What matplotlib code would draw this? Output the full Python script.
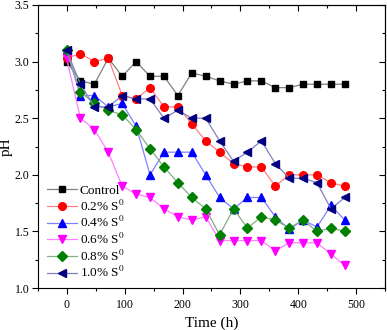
import matplotlib
matplotlib.use("Agg")
import matplotlib.pyplot as plt
from matplotlib.ticker import MultipleLocator

plt.rcParams['font.family'] = ['Liberation Serif', 'DejaVu Serif']
plt.rcParams['mathtext.fontset'] = 'stix'

# sampling times (h)
time_h = [0, 24, 48, 72, 96, 120, 144, 168, 192, 216, 240,
          264, 288, 312, 336, 360, 384, 408, 432, 456, 480]

ph_control = [3.00, 2.83, 2.80, 3.03, 2.87, 3.00, 2.87, 2.87, 2.70, 2.90, 2.87,
              2.83, 2.80, 2.83, 2.83, 2.77, 2.77, 2.80, 2.80, 2.80, 2.80]
ph_s02 = [3.03, 3.07, 3.00, 3.03, 2.70, 2.67, 2.77, 2.60, 2.60, 2.45, 2.30,
          2.20, 2.10, 2.07, 2.07, 1.90, 2.00, 2.00, 2.00, 1.93, 1.90]
ph_s04 = [3.10, 2.70, 2.70, 2.60, 2.63, 2.43, 2.00, 2.20, 2.20, 2.20, 2.00,
          1.80, 1.70, 1.80, 1.80, 1.63, 1.52, 1.60, 1.54, 1.73, 1.60]
ph_s06 = [3.03, 2.50, 2.40, 2.20, 1.90, 1.83, 1.80, 1.70, 1.63, 1.60, 1.63,
          1.42, 1.42, 1.42, 1.42, 1.33, 1.40, 1.40, 1.40, 1.30, 1.20]
ph_s08 = [3.10, 2.73, 2.63, 2.57, 2.53, 2.40, 2.23, 2.07, 1.93, 1.80, 1.70,
          1.47, 1.70, 1.53, 1.63, 1.60, 1.53, 1.60, 1.50, 1.53, 1.50]
ph_s10 = [3.10, 2.80, 2.60, 2.60, 2.70, 2.67, 2.67, 2.50, 2.57, 2.50, 2.50,
          2.30, 2.12, 2.20, 2.30, 2.10, 1.97, 1.97, 1.93, 1.70, 1.80]

labels = ['Control', '0.2% S$^0$', '0.4% S$^0$', '0.6% S$^0$',
          '0.8% S$^0$', '1.0% S$^0$']

fig = plt.figure(figsize=(3.87, 3.30), dpi=100)
ax = fig.add_axes([0.097, 0.127, 0.899, 0.858])

series = [ph_control, ph_s02, ph_s04, ph_s06, ph_s08, ph_s10]
# (marker colour, line colour, marker, size)
styles = [('black', '#808080', 's', 5),
          ('red', '#ff8080', 'o', 5.5),
          ('blue', '#8080ff', '^', 6),
          ('magenta', '#ff80ff', 'v', 6),
          ('green', '#80b080', 'D', 4.8),
          ('navy', '#8080c0', '<', 6)]

for ys, lab, (mc, lc, mk, ms) in zip(series, labels, styles):
    ax.plot(time_h, ys, color=lc, lw=0.9, marker=mk, ms=ms,
            mfc=mc, mec=mc, label=lab)

ax.set_xlim(-50, 550)
ax.set_ylim(1.0, 3.5)
ax.xaxis.set_major_locator(MultipleLocator(100))
ax.xaxis.set_minor_locator(MultipleLocator(50))
ax.yaxis.set_major_locator(MultipleLocator(0.5))
ax.yaxis.set_minor_locator(MultipleLocator(0.25))
ax.yaxis.set_major_formatter(plt.FormatStrFormatter('%.1f'))

ax.tick_params(which='both', direction='out', labelsize=8.5, width=0.8)
ax.tick_params(which='major', length=4)
ax.tick_params(which='minor', length=2.5)
ax.tick_params(axis='y', pad=2)
# top/right ticks pointing inward
ax2 = ax.secondary_xaxis('top')
ax2.xaxis.set_major_locator(MultipleLocator(100))
ax2.xaxis.set_minor_locator(MultipleLocator(50))
ax2.tick_params(which='both', direction='in', labeltop=False, width=0.8)
ax2.tick_params(which='major', length=4)
ax2.tick_params(which='minor', length=2.5)
ax3 = ax.secondary_yaxis('right')
ax3.yaxis.set_major_locator(MultipleLocator(0.5))
ax3.yaxis.set_minor_locator(MultipleLocator(0.25))
ax3.tick_params(which='both', direction='in', labelright=False, width=0.8)
ax3.tick_params(which='major', length=4)
ax3.tick_params(which='minor', length=2.5)

for sp in ax.spines.values():
    sp.set_linewidth(0.8)

ax.set_xlabel('Time (h)', fontsize=11)
ax.set_ylabel('pH', fontsize=11, labelpad=1)

ax.legend(loc='lower left', frameon=False, fontsize=9.5, handlelength=2.3,
          handletextpad=0.2, labelspacing=0.12, borderaxespad=0.3,
          bbox_to_anchor=(0.0, -0.005))

fig.savefig('out.png', dpi=100)
